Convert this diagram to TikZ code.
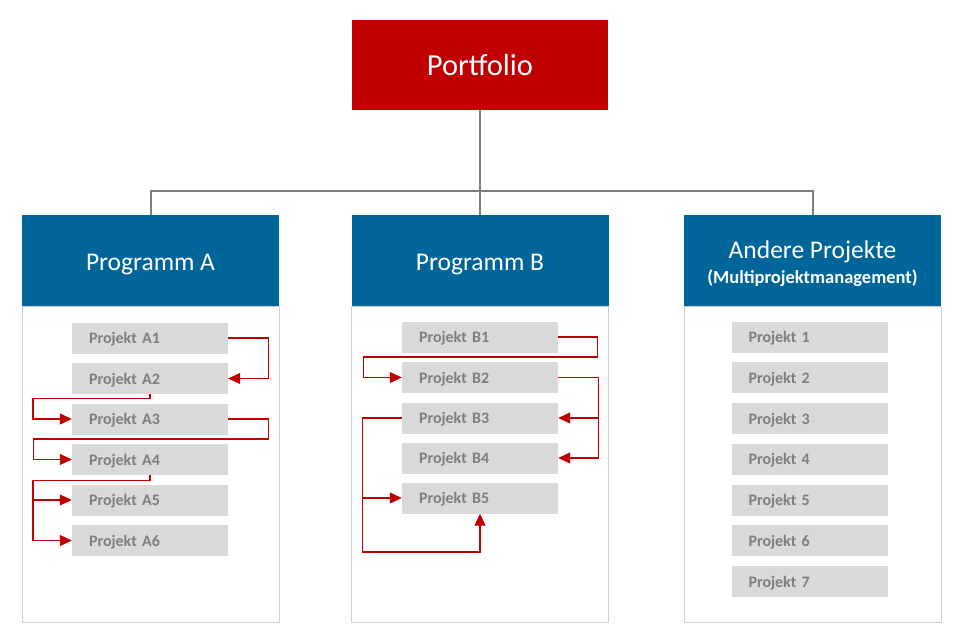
\documentclass[tikz,border=0pt]{standalone}
\usepackage{fontspec}
\setmainfont{Carlito}
\usetikzlibrary{arrows.meta}

\definecolor{portred}{HTML}{C00000}
\definecolor{progblue}{HTML}{006699}
\definecolor{boxgrey}{HTML}{D9D9D9}
\definecolor{textgrey}{HTML}{7F7F7F}
\definecolor{framegrey}{HTML}{D0D0D0}

% strut to push header text a bit down
\newcommand{\hdstrut}{\rule{0pt}{25pt}}

\tikzset{
  header/.style={fill=progblue, text=white, minimum width=257pt, minimum height=91pt,
    inner sep=0pt, align=center, font=\fontsize{25.5}{28}\selectfont},
  panel/.style={draw=framegrey, line width=0.8pt, minimum width=257pt, minimum height=316pt, inner sep=0pt},
  projbox/.style={fill=boxgrey, text=textgrey, minimum height=31pt, text width=122pt, text depth=-1pt,
    inner xsep=17pt, inner ysep=0pt, align=left, font=\fontsize{16}{18}\selectfont\bfseries},
  flow/.style={draw=portred, line width=1.1pt, -{Triangle[length=12pt,width=11pt]}},
  link/.style={draw=textgrey, line width=2pt}
}

\begin{document}
\begin{tikzpicture}[x=1pt,y=-1pt]

\useasboundingbox (0,0) rectangle (959,630);

% Portfolio on top
\node[fill=portred, text=white, minimum width=256pt, minimum height=90pt, inner sep=0pt,
  text depth=-4pt, font=\fontsize{30.5}{33}\selectfont] (portfolio) at (480,65) {Portfolio};

% Panels below the headers
\node[panel] (bodyA) at (150.5,464) {};
\node[panel] (bodyB) at (480,464) {};
\node[panel] (bodyC) at (812.5,464) {};

% Program headers
\node[header] (progA) at (150.5,260.5) {\hdstrut Programm A};
\node[header] (progB) at (480,260.5) {\hdstrut Programm B};
\node[header] (andere) at (812.5,260.5) {\hdstrut Andere Projekte\\[-3pt]{\fontsize{18.5}{20}\selectfont\bfseries (Multiprojektmanagement)}};

% Tree lines
\draw[link] (portfolio.south) -- (progB.north);
\draw[link] (progA.north) -- ++(0,-24) -| (andere.north);

% Projects of program A
\node[projbox] (pA1) at (150,338) {Projekt A1};
\node[projbox] (pA2) at (150,378.5) {Projekt A2};
\node[projbox] (pA3) at (150,419) {Projekt A3};
\node[projbox] (pA4) at (150,459.5) {Projekt A4};
\node[projbox] (pA5) at (150,500) {Projekt A5};
\node[projbox] (pA6) at (150,540.5) {Projekt A6};

% Projects of program B
\node[projbox] (pB1) at (480,337) {Projekt B1};
\node[projbox] (pB2) at (480,377.5) {Projekt B2};
\node[projbox] (pB3) at (480,418) {Projekt B3};
\node[projbox] (pB4) at (480,458) {Projekt B4};
\node[projbox] (pB5) at (480,498) {Projekt B5};

% Other projects
\foreach \i in {1,...,7}
  \node[projbox] (p\i) at (809.5,{296.5+40.7*\i}) {Projekt \i};

% Order of program A
\draw[flow] (pA1.east) -- ++(40,0) |- (pA2.east);
\draw[flow] (pA2.south) -- ++(0,4) -- ++(-117,0) |- (pA3.west);
\draw[flow] (pA3.east) -- ++(40,0) -- ++(0,20) -- ++(-235,0) |- (pA4.west);
\draw[flow] (pA4.south) -- ++(0,5) -- ++(-117,0) coordinate (a4) |- (pA5.west);
\draw[flow] (a4) |- (pA6.west);

% Order of program B
\draw[flow] (pB1.east) -- ++(39,0) -- ++(0,20) -- ++(-234,0) |- (pB2.west);
\draw[flow] (pB2.east) -- ++(40,0) coordinate (b2) |- (pB3.east);
\draw[flow] (b2) |- (pB4.east);
\draw[flow] (pB3.west) -- ++(-39,0) coordinate (b3) |- (pB5.west);
\draw[flow] (b3) -- ++(0,134) -| (pB5.south);

\end{tikzpicture}
\end{document}
